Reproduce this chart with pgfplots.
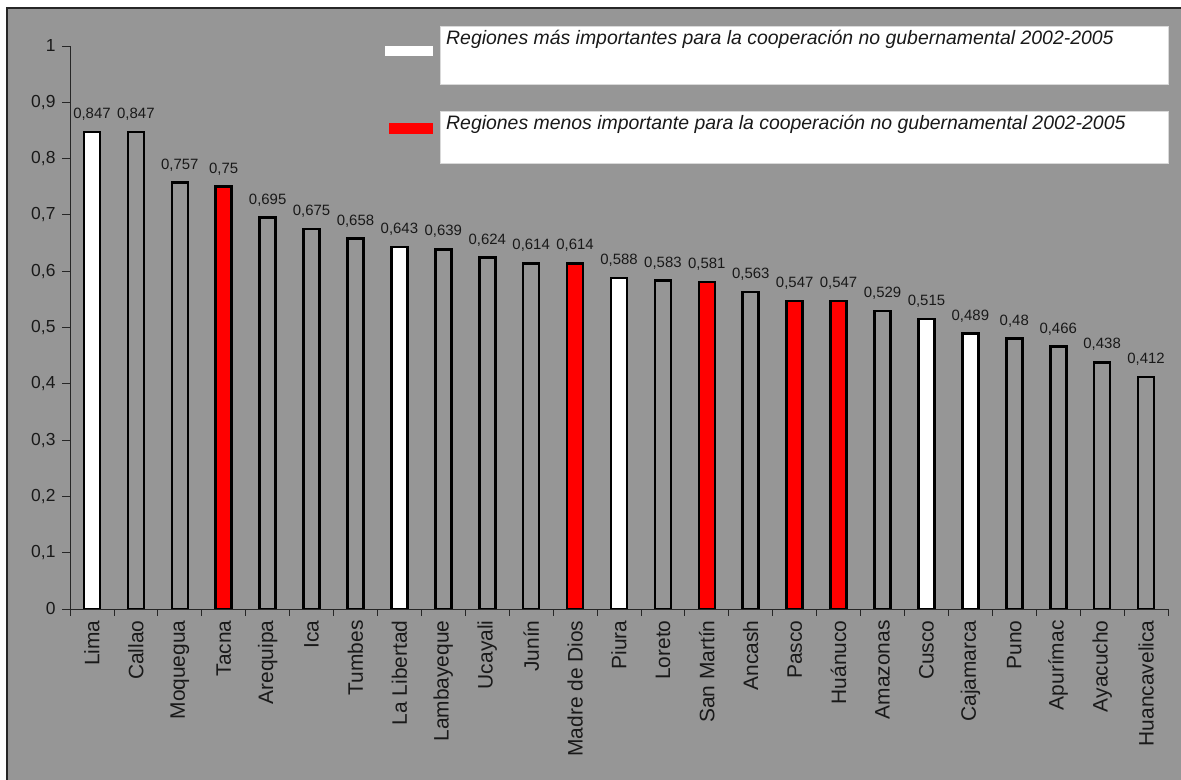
\documentclass[border=0pt]{standalone}
\usepackage{pgfplots}
\pgfplotsset{compat=1.18}
\usepackage{fontspec}
\setmainfont{Liberation Sans}
\definecolor{bggray}{RGB}{150,150,150}
\definecolor{barred}{RGB}{255,0,0}

\begin{document}
\begin{tikzpicture}[x=1bp,y=1bp]
\useasboundingbox (0,0) rectangle (1181,780);
\fill[white] (0,0) rectangle (1181,780);
\fill[bggray] (7,-20) rectangle (1200,772);
\draw[line width=1.2bp, black!85] (7,-20) -- (7,772) -- (1200,772);
\begin{axis}[
  at={(70bp,171bp)}, anchor=south west,
  scale only axis, width=1098bp, height=563bp,
  xmin=-0.5, xmax=24.5, ymin=0, ymax=1,
  axis x line*=bottom, axis y line*=left,
  axis line style={black!85, line width=0.8bp, -},
  tick align=outside,
  xtick={0,...,24},
  xticklabels={Lima,Callao,Moquegua,Tacna,Arequipa,Ica,Tumbes,La Libertad,Lambayeque,Ucayali,Junín,Madre de Dios,Piura,Loreto,San Martín,Ancash,Pasco,Huánuco,Amazonas,Cusco,Cajamarca,Puno,Apurímac,Ayacucho,Huancavelica},
  major x tick style={draw=none},
  minor xtick={-0.5,0.5,...,24.5},
  minor tick length=7bp,
  major tick length=8bp,
  every tick/.style={black!85, line width=0.8bp},
  ytick={0,0.1,0.2,0.3,0.4,0.5,0.6,0.7,0.8,0.9,1},
  /pgf/number format/.cd, use comma, precision=3, assume math mode=true,
  /pgfplots/.cd,
  xticklabel style={rotate=90, anchor=east, font=\fontsize{21}{21}\selectfont, text=black!90},
  yticklabel style={font=\fontsize{17.5}{17.5}\selectfont, text=black!90, xshift=-3bp},
  nodes near coords,
  nodes near coords style={font=\fontsize{15}{15}\selectfont, text=black!90, anchor=south, yshift=7bp},
]
\addplot[ybar, bar width=16bp, bar shift=0pt, fill=white, draw=black, line width=2.6bp]
  coordinates {(0,0.847) (7,0.643) (12,0.588) (19,0.515) (20,0.489)};
\addplot[ybar, bar width=16bp, bar shift=0pt, fill=bggray, draw=black, line width=2.6bp]
  coordinates {(1,0.847) (2,0.757) (4,0.695) (5,0.675) (6,0.658) (8,0.639) (9,0.624) (10,0.614) (13,0.583) (15,0.563) (18,0.529) (21,0.48) (22,0.466) (23,0.438) (24,0.412)};
\addplot[ybar, bar width=16bp, bar shift=0pt, fill=barred, draw=black, line width=2.6bp]
  coordinates {(3,0.75) (11,0.614) (14,0.581) (16,0.547) (17,0.547)};
\end{axis}
% legend
\fill[white] (385,724) rectangle (433,734);
\fill[barred] (389,646) rectangle (433,657);
\draw[fill=white, draw=white!85!black, line width=0.8bp] (440,696) rectangle (1168,754);
\draw[fill=white, draw=white!85!black, line width=0.8bp] (440,617) rectangle (1168,669);
\node[anchor=base west, inner sep=0pt, font=\itshape\fontsize{19.5}{19.5}\selectfont, text=black!90] at (446,735) {Regiones más importantes para la cooperación no gubernamental 2002-2005};
\node[anchor=base west, inner sep=0pt, font=\itshape\fontsize{19.5}{19.5}\selectfont, text=black!90] at (446,650) {Regiones menos importante para la cooperación no gubernamental 2002-2005};
\end{tikzpicture}
\end{document}
